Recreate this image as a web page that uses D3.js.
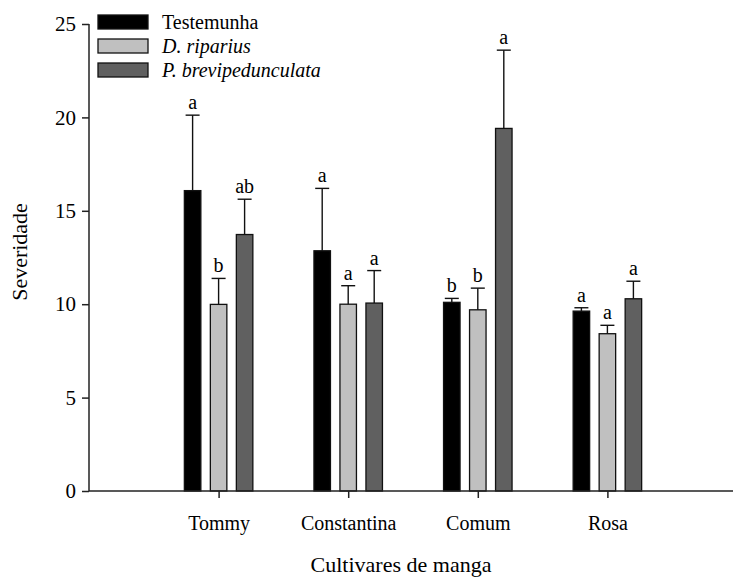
<!DOCTYPE html>
<html>
<head>
<meta charset="utf-8">
<script src="https://cdn.jsdelivr.net/npm/d3@7"></script>
<style>
    body { margin: 0; background: #fff; }
    svg text { font-family: "Liberation Serif", "Times New Roman", serif; fill: #000; }
</style>
</head>
<body>
<div id="chart"></div>
<script>
let cultivars = ['Tommy', 'Constantina', 'Comum', 'Rosa'];
let seriesNames = ['Testemunha', 'D. riparius', 'P. brevipedunculata'];
let seriesItalic = [false, true, true];
let seriesColors = ['#000000', '#c0c0c0', '#606060'];

// means per series, in cultivar order
let testemunha = [16.08, 12.86, 10.10, 9.63];
let riparius = [9.99, 10.00, 9.70, 8.42];
let brevipedunculata = [13.73, 10.06, 19.41, 10.29];
// upper end of error bar
let testemunhaErr = [20.12, 16.20, 10.31, 9.81];
let ripariusErr = [11.38, 10.99, 10.86, 8.87];
let brevipedunculataErr = [15.62, 11.80, 23.60, 11.23];
// letters above bars
let testemunhaLetters = ['a', 'a', 'b', 'a'];
let ripariusLetters = ['b', 'a', 'b', 'a'];
let brevipedunculataLetters = ['ab', 'a', 'a', 'a'];

let yTicks = [0, 5, 10, 15, 20, 25];

let means = [testemunha, riparius, brevipedunculata];
let errs = [testemunhaErr, ripariusErr, brevipedunculataErr];
let letters = [testemunhaLetters, ripariusLetters, brevipedunculataLetters];

let rows = [];
means.forEach((series, s) => {
    series.forEach((v, i) => {
        rows.push({cultivar: cultivars[i], series: s, value: v, err: errs[s][i], letter: letters[s][i]});
    });
});

let serif = '"Liberation Serif", "Times New Roman", serif';
let width = 733, height = 579;
let margin = {top: 24, left: 89, bottom: 88};
let plotBottom = height - margin.bottom;

let svg = d3.select('#chart').append('svg')
    .attr('width', width)
    .attr('height', height)
    .attr('font-family', serif);

let x = d3.scalePoint()
    .domain(cultivars)
    .range([margin.left, 737])
    .padding(1);

let offset = d3.scalePoint()
    .domain(d3.range(seriesNames.length))
    .range([-26, 26]);

let barWidth = 16.5;

let y = d3.scaleLinear()
    .domain([0, 25])
    .range([plotBottom, margin.top]);

// bars
svg.selectAll('.bar')
    .data(rows)
    .enter().append('rect')
    .attr('class', 'bar')
    .attr('x', d => x(d.cultivar) + offset(d.series) - barWidth / 2)
    .attr('width', barWidth)
    .attr('y', d => y(d.value))
    .attr('height', d => y(0) - y(d.value))
    .attr('fill', d => seriesColors[d.series])
    .attr('stroke', '#111')
    .attr('stroke-width', 1.3);

// error bars (upper only)
let errG = svg.append('g').attr('stroke', '#111').attr('stroke-width', 1.4);
errG.selectAll('.errline')
    .data(rows)
    .enter().append('line')
    .attr('x1', d => x(d.cultivar) + offset(d.series))
    .attr('x2', d => x(d.cultivar) + offset(d.series))
    .attr('y1', d => y(d.value))
    .attr('y2', d => y(d.err));
errG.selectAll('.errcap')
    .data(rows)
    .enter().append('line')
    .attr('x1', d => x(d.cultivar) + offset(d.series) - 7)
    .attr('x2', d => x(d.cultivar) + offset(d.series) + 7)
    .attr('y1', d => y(d.err))
    .attr('y2', d => y(d.err));

// letters
svg.selectAll('.letter')
    .data(rows)
    .enter().append('text')
    .attr('x', d => x(d.cultivar) + offset(d.series))
    .attr('y', d => y(d.err) - 6)
    .attr('text-anchor', 'middle')
    .style('font-size', '20px')
    .text(d => d.letter);

// axes
let yAxis = svg.append('g')
    .attr('transform', `translate(${margin.left},0)`)
    .call(d3.axisLeft(y).tickValues(yTicks).tickSize(7).tickPadding(6));

let xAxis = svg.append('g')
    .attr('transform', `translate(0,${plotBottom})`)
    .call(d3.axisBottom(x).tickSize(7).tickPadding(18));

xAxis.select('.domain').attr('d', `M${margin.left},0H${width}`);
yAxis.select('.domain').attr('d', `M0,${y(25)}V${y(0)}`);

yAxis.attr('font-family', serif).attr('font-size', 21);
xAxis.attr('font-family', serif).attr('font-size', 20);

svg.selectAll('.domain, .tick line')
    .attr('stroke', '#222')
    .attr('stroke-width', 1.5);

// axis titles
svg.append('text')
    .attr('x', 401)
    .attr('y', 572)
    .attr('text-anchor', 'middle')
    .style('font-size', '22px')
    .text('Cultivares de manga');

svg.append('text')
    .attr('transform', 'translate(27,252) rotate(-90)')
    .attr('text-anchor', 'middle')
    .style('font-size', '22px')
    .text('Severidade');

// legend
let legend = svg.append('g').attr('transform', 'translate(98,15)');
seriesNames.forEach((name, i) => {
    let row = legend.append('g').attr('transform', `translate(0,${i * 24})`);
    row.append('rect')
        .attr('width', 50)
        .attr('height', 14)
        .attr('fill', seriesColors[i])
        .attr('stroke', '#111')
        .attr('stroke-width', 1.3);
    row.append('text')
        .attr('x', 64)
        .attr('y', 14)
        .style('font-size', '20px')
        .style('font-style', seriesItalic[i] ? 'italic' : 'normal')
        .text(name);
});
</script>
</body>
</html>
